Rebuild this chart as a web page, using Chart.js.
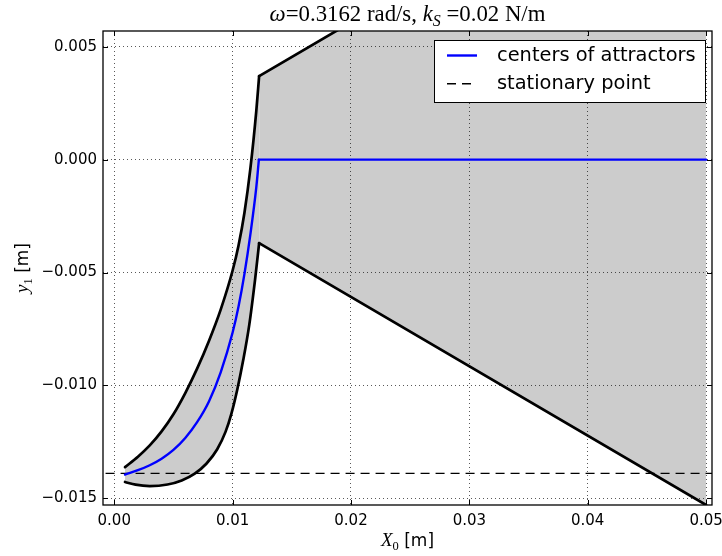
<!DOCTYPE html>
<html><head><meta charset="utf-8">
<script src="https://cdn.jsdelivr.net/npm/chart.js@4.4.1/dist/chart.umd.min.js"></script>
<style>html,body{margin:0;padding:0;background:#fff;overflow:hidden}canvas{display:block}</style>
</head><body>
<canvas id="c" width="722" height="556"></canvas>
<script>
// ---- data ----
const xTicks = [0, 0.01, 0.02, 0.03, 0.04, 0.05];
const xTickLabels = ['0.00', '0.01', '0.02', '0.03', '0.04', '0.05'];
const yTicks = [-0.015, -0.010, -0.005, 0.000, 0.005];
const yTickLabels = ['\u22120.015', '\u22120.010', '\u22120.005', '0.000', '0.005'];

// centers of attractors: curved rise, then flat at zero
const centerCurveX = [0.00091, 0.002, 0.003, 0.004, 0.005, 0.006, 0.007, 0.008, 0.009, 0.010, 0.0105, 0.011, 0.0115, 0.012, 0.01222];
const centerCurveY = [-0.01395, -0.01376, -0.01354, -0.01325, -0.01286, -0.01233, -0.01163, -0.01071, -0.00941, -0.00766, -0.00651, -0.00506, -0.00331, -0.00123, 0.0];
const centerFlatX = [0.01222, 0.05];
const centerFlatY = [0.0, 0.0];

// upper edge of the attractor band
const upperCurveX = [0.00091, 0.002, 0.003, 0.004, 0.005, 0.006, 0.007, 0.008, 0.009, 0.010, 0.0105, 0.011, 0.0115, 0.012, 0.01224];
const upperCurveY = [-0.01362, -0.01316, -0.01266, -0.01204, -0.01128, -0.01034, -0.00926, -0.00803, -0.00663, -0.00491, -0.00380, -0.00235, -0.00040, 0.00215, 0.0037];
const upperLineX = [0.01224, 0.05];
const upperLineY = [0.0037, 0.0153];

// lower edge of the attractor band
const lowerCurveX = [0.00091, 0.0018, 0.003, 0.0045, 0.0057, 0.0068, 0.0078, 0.0087, 0.0094, 0.0099, 0.0104, 0.0109, 0.0114, 0.0119, 0.01224];
const lowerCurveY = [-0.01428, -0.01440, -0.01446, -0.01439, -0.01421, -0.01391, -0.01346, -0.01283, -0.01206, -0.01125, -0.01017, -0.00887, -0.00734, -0.00530, -0.0037];
const lowerLineX = [0.01224, 0.05];
const lowerLineY = [-0.0037, -0.0153];

// stationary point (horizontal line)
const stationaryX = [-0.002, 0.052];
const stationaryY = [-0.0139, -0.0139];

const seriesLabels = ['centers of attractors', 'stationary point'];
// --------------------------------------

const pts = (xs, ys) => xs.map((x, i) => ({x: x, y: ys[i]}));

function drawRich(ctx, parts, x, y, align) {
  let w = 0;
  parts.forEach(p => { ctx.font = p.font; p.w = ctx.measureText(p.t).width; w += p.w; });
  let cx = align === 'center' ? x - w / 2 : x;
  ctx.textBaseline = 'alphabetic';
  ctx.textAlign = 'left';
  parts.forEach(p => { ctx.font = p.font; ctx.fillText(p.t, cx, y + (p.dy || 0)); cx += p.w; });
  return w;
}

const serif = 'px "Liberation Serif", "DejaVu Serif", serif';
function titleParts(fs) {
  return [
    {t: '\u03C9', font: 'italic ' + fs + serif},
    {t: '=0.3162 rad/s, ', font: fs + serif},
    {t: 'k', font: 'italic ' + fs + serif},
    {t: 'S', font: 'italic ' + (fs * 0.7) + serif, dy: fs * 0.22},
    {t: ' =0.02 N/m', font: fs + serif}
  ];
}

const decor = {
  id: 'decor',
  afterDatasetsDraw(chart) {
    const ctx = chart.ctx, a = chart.chartArea;
    const xs = chart.scales.x, ys = chart.scales.y;
    ctx.save();
    ctx.strokeStyle = '#000';
    ctx.lineWidth = 1;
    ctx.setLineDash([]);
    const tl = 5;
    ctx.beginPath();
    xTicks.forEach(v => {
      const px = Math.round(xs.getPixelForValue(v)) + 0.5;
      ctx.moveTo(px, a.bottom); ctx.lineTo(px, a.bottom - tl);
      ctx.moveTo(px, a.top); ctx.lineTo(px, a.top + tl);
    });
    yTicks.forEach(v => {
      const py = Math.round(ys.getPixelForValue(v)) + 0.5;
      ctx.moveTo(a.left, py); ctx.lineTo(a.left + tl, py);
      ctx.moveTo(a.right, py); ctx.lineTo(a.right - tl, py);
    });
    ctx.stroke();
    ctx.lineWidth = 1.3;
    ctx.strokeRect(a.left, a.top, a.right - a.left, a.bottom - a.top);
    ctx.restore();
  },
  afterDraw(chart) {
    const ctx = chart.ctx, a = chart.chartArea;
    ctx.save();
    ctx.fillStyle = '#000';
    const cx = (a.left + a.right) / 2;
    let probe = 0;
    titleParts(20).forEach(p => { ctx.font = p.font; probe += ctx.measureText(p.t).width; });
    const fs = 20 * 276 / probe;
    drawRich(ctx, titleParts(fs), cx, 21, 'center');
    drawRich(ctx, [
      {t: 'X', font: 'italic 19' + serif},
      {t: '0', font: '12.5' + serif, dy: 4},
      {t: ' [m]', font: '17px "DejaVu Sans"'}
    ], cx, 546, 'center');
    ctx.save();
    ctx.translate(28, (a.top + a.bottom) / 2);
    ctx.rotate(-Math.PI / 2);
    drawRich(ctx, [
      {t: 'y', font: 'italic 19' + serif},
      {t: '1', font: '12.5' + serif, dy: 4},
      {t: ' [m]', font: '17px "DejaVu Sans"'}
    ], 0, 0, 'center');
    ctx.restore();
    // legend
    const lx = 434, ly = 40, lw = 271, lh = 62;
    ctx.fillStyle = '#fff';
    ctx.fillRect(lx, ly, lw, lh);
    ctx.strokeStyle = '#000';
    ctx.lineWidth = 1;
    ctx.strokeRect(lx + 0.5, ly + 0.5, lw, lh);
    [0, 2].forEach((di, r) => {
      const ds = chart.data.datasets[di];
      const yy = ly + 15.5 + r * 28.3;
      ctx.strokeStyle = ds.borderColor;
      ctx.lineWidth = ds.borderWidth;
      ctx.lineCap = 'butt';
      ctx.setLineDash(ds.borderDash || []);
      ctx.beginPath();
      ctx.moveTo(lx + 13, yy); ctx.lineTo(lx + 43, yy);
      ctx.stroke();
      ctx.setLineDash([]);
      ctx.fillStyle = '#000';
      ctx.font = '19.4px "DejaVu Sans"';
      ctx.textBaseline = 'middle';
      ctx.textAlign = 'left';
      ctx.fillText(ds.label, lx + 63, yy);
    });
    ctx.restore();
  }
};

const band = '#cccccc';
const lineBase = {showLine: true, pointRadius: 0, borderCapStyle: 'round', borderJoinStyle: 'round'};

new Chart(document.getElementById('c'), {
  type: 'scatter',
  data: {
    datasets: [
      Object.assign({label: seriesLabels[0], data: pts(centerCurveX, centerCurveY), borderColor: '#0000ff', borderWidth: 2.4, cubicInterpolationMode: 'monotone', fill: false}, lineBase),
      Object.assign({label: seriesLabels[0] + ' (flat)', data: pts(centerFlatX, centerFlatY), borderColor: '#0000ff', borderWidth: 2.4, fill: false}, lineBase),
      Object.assign({label: seriesLabels[1], data: pts(stationaryX, stationaryY), borderColor: '#000', borderWidth: 1.4, borderDash: [9, 6], fill: false}, lineBase, {borderCapStyle: 'butt'}),
      Object.assign({label: 'upper edge', data: pts(upperCurveX, upperCurveY), borderColor: '#000', borderWidth: 2.7, cubicInterpolationMode: 'monotone', backgroundColor: band, fill: '+1'}, lineBase),
      Object.assign({label: 'lower edge', data: pts(lowerCurveX, lowerCurveY), borderColor: '#000', borderWidth: 2.7, cubicInterpolationMode: 'monotone', fill: false}, lineBase),
      Object.assign({label: 'upper edge (linear)', data: pts(upperLineX, upperLineY), borderColor: '#000', borderWidth: 2.7, backgroundColor: band, fill: '+1'}, lineBase),
      Object.assign({label: 'lower edge (linear)', data: pts(lowerLineX, lowerLineY), borderColor: '#000', borderWidth: 2.7, fill: false}, lineBase)
    ]
  },
  options: {
    responsive: false,
    animation: false,
    devicePixelRatio: 1,
    layout: {padding: {left: 0, right: 10, top: 31, bottom: 0}},
    plugins: {legend: {display: false}, title: {display: false}, tooltip: {enabled: false}, filler: {drawTime: 'beforeDraw'}},
    scales: {
      x: {
        type: 'linear', min: -0.00095, max: 0.0505,
        afterBuildTicks: s => { s.ticks = xTicks.map(v => ({value: v})); },
        afterFit: s => { s.height = 51; s.paddingLeft = 0; s.paddingRight = 0; },
        grid: {color: 'rgba(0,0,0,0.65)', lineWidth: 1, drawTicks: false},
        border: {display: false, dash: [1, 3]},
        ticks: {callback: (v, i) => xTickLabels[i], font: {family: 'DejaVu Sans', size: 15}, color: '#000', padding: 7, maxRotation: 0, autoSkip: false}
      },
      y: {
        type: 'linear', min: -0.0153, max: 0.0057,
        afterBuildTicks: s => { s.ticks = yTicks.map(v => ({value: v})); },
        afterFit: s => { s.width = 103; s.paddingTop = 0; s.paddingBottom = 0; },
        grid: {color: 'rgba(0,0,0,0.65)', lineWidth: 1, drawTicks: false},
        border: {display: false, dash: [1, 3]},
        ticks: {callback: (v, i) => yTickLabels[i], font: {family: 'DejaVu Sans', size: 15}, color: '#000', padding: 6, autoSkip: false}
      }
    }
  },
  plugins: [decor]
});
</script>
</body></html>
